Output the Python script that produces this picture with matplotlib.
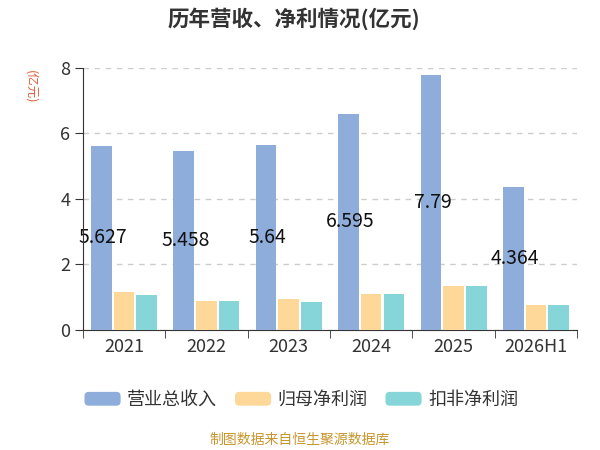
import numpy as np
import matplotlib
matplotlib.use('Agg')
import matplotlib.pyplot as plt
from matplotlib.patches import FancyBboxPatch, Rectangle
from matplotlib.legend_handler import HandlerPatch

plt.rcParams['font.family'] = ['Noto Sans CJK SC', 'DejaVu Sans']

# data
years = ['2021', '2022', '2023', '2024', '2025', '2026H1']
revenue = [5.627, 5.458, 5.64, 6.595, 7.79, 4.364]
net_profit = [1.15, 0.89, 0.93, 1.09, 1.34, 0.76]
net_profit_deducted = [1.06, 0.87, 0.86, 1.08, 1.33, 0.75]
series_names = ['营业总收入', '归母净利润', '扣非净利润']
colors = ['#8eaddb', '#fed899', '#86d6d9']

fig = plt.figure(figsize=(6, 4.5), dpi=100)
ax = fig.add_axes([0.138, 0.267, 0.824, 0.582])

x = np.arange(len(years))
w = 0.25
off = 0.275
b1 = ax.bar(x - off, revenue, w, color=colors[0], label=series_names[0], zorder=3)
b2 = ax.bar(x, net_profit, w, color=colors[1], label=series_names[1], zorder=3)
b3 = ax.bar(x + off, net_profit_deducted, w, color=colors[2], label=series_names[2], zorder=3)

for xi, v in zip(x, revenue):
    ax.text(xi - off + 0.02, v / 2, f'{v:g}', ha='center', va='center', fontsize=14,
            color='#111111', zorder=5)

ax.set_xlim(-0.5, len(years) - 0.5)
ax.set_ylim(0, 8)
ax.set_yticks([0, 2, 4, 6, 8])
ax.set_xticks(x)
ax.set_xticklabels(years)
ax.set_xticks(np.arange(-0.5, len(years)), minor=True)
ax.tick_params(axis='x', which='major', length=0, labelsize=13, colors='#333333', pad=6)
ax.tick_params(axis='x', which='minor', length=6, color='#333333')
ax.tick_params(axis='y', length=6, labelsize=13, colors='#333333', pad=3)
ax.grid(axis='y', linestyle=(0, (4, 4)), color='#cccccc', linewidth=1, zorder=0)
for s in ['top', 'right']:
    ax.spines[s].set_visible(False)
ax.spines['left'].set_color('#333333')
ax.spines['bottom'].set_color('#333333')
ax.spines['left'].set_zorder(6)

ax.text(-0.105, 0.93, '(亿元)', transform=ax.transAxes, rotation=-90, color='#e0603a',
        fontsize=9, ha='center', va='center')

fig.text(0.49, 0.958, '历年营收、净利情况(亿元)', ha='center', va='center',
         fontsize=15.5, fontweight='bold', color='#333333')


class RoundHandler(HandlerPatch):
    def create_artists(self, legend, orig_handle, xdescent, ydescent, width, height, fontsize, trans):
        p = FancyBboxPatch((-xdescent, -ydescent), width, height,
                           boxstyle='round,pad=0,rounding_size=3',
                           facecolor=orig_handle.get_facecolor(), edgecolor='none', transform=trans)
        return [p]


leg = fig.legend(handles=[b1.patches[0], b2.patches[0], b3.patches[0]], labels=series_names,
                 loc='center', bbox_to_anchor=(0.502, 0.111), ncol=3, frameon=False,
                 fontsize=13, handlelength=2.0, handleheight=0.8, columnspacing=1.0,
                 handletextpad=0.35, handler_map={Rectangle: RoundHandler()})
for t in leg.get_texts():
    t.set_color('#333333')

fig.text(0.5, 0.022, '制图数据来自恒生聚源数据库', ha='center', va='center',
         fontsize=10, color='#c8962e')

fig.savefig('out.png', dpi=100)
